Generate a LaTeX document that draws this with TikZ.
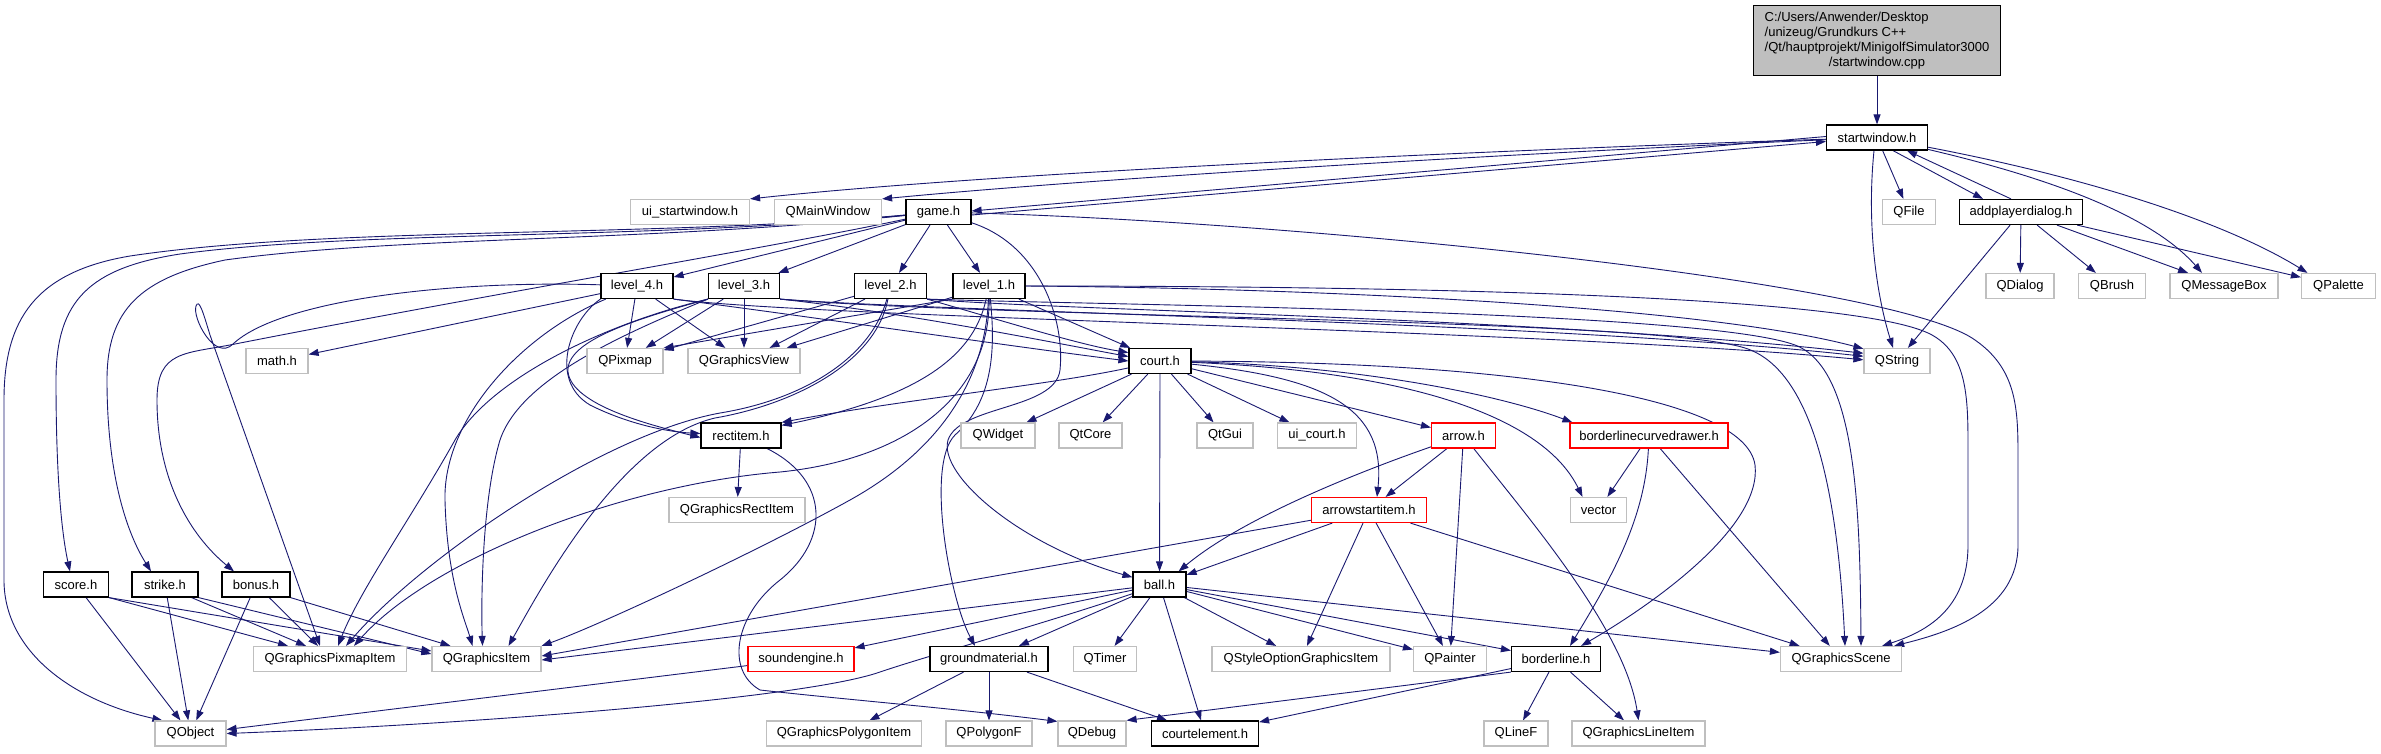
\documentclass[tikz,border=0pt]{standalone}
\usepackage{fontspec}
\setmainfont{Liberation Sans}
\usetikzlibrary{arrows.meta,backgrounds}
\definecolor{edgeblue}{HTML}{191970}
\definecolor{extgray}{HTML}{BFBFBF}

\begin{document}
\begin{tikzpicture}[x=1pt, y=-1pt, font=\fontsize{13}{15}\selectfont,
  hbox/.style={draw, line width=1.2pt, fill=white, inner sep=0pt, minimum height=25},
  proj/.style={hbox, draw=black},
  ext/.style={hbox, draw=extgray},
  trunc/.style={hbox, draw=red},
  src/.style={hbox, draw=black, fill=extgray, minimum width=247, minimum height=70},
  inc/.style={draw=edgeblue, line width=0.9pt, -{Triangle[length=10pt,width=7pt]}}]
\node[src] (cpp) at (1877,40.5) {\begin{tabular}{@{}l@{}}C:/Users/Anwender/Desktop\\ /unizeug/Grundkurs C++\\ /Qt/hauptprojekt/MinigolfSimulator3000\\ \multicolumn{1}{@{}c@{}}{/startwindow.cpp}\end{tabular}};
\node[proj, minimum width=101] (swh) at (1877,137.5) {startwindow.h};
\node[ext, minimum width=119] (uisw) at (690,212) {ui\_startwindow.h};
\node[ext, minimum width=107] (qmw) at (828,212) {QMainWindow};
\node[proj, minimum width=65] (game) at (938.5,212) {game.h};
\node[ext, minimum width=53] (qfile) at (1909,212) {QFile};
\node[proj, minimum width=123] (apd) at (2021,212) {addplayerdialog.h};
\node[proj, minimum width=72] (lv4) at (637,286) {level\_4.h};
\node[proj, minimum width=71] (lv3) at (744,286) {level\_3.h};
\node[proj, minimum width=72] (lv2) at (890.5,286) {level\_2.h};
\node[proj, minimum width=72] (lv1) at (989,286) {level\_1.h};
\node[ext, minimum width=68] (qdialog) at (2020,286) {QDialog};
\node[ext, minimum width=67] (qbrush) at (2112,286) {QBrush};
\node[ext, minimum width=108] (qmsg) at (2224,286) {QMessageBox};
\node[ext, minimum width=74] (qpal) at (2338.5,286) {QPalette};
\node[ext, minimum width=62] (math) at (277,361) {math.h};
\node[ext, minimum width=76] (qpix) at (625,361) {QPixmap};
\node[ext, minimum width=112] (qgv) at (744,361) {QGraphicsView};
\node[proj, minimum width=62] (court) at (1160,361) {court.h};
\node[ext, minimum width=66] (qstring) at (1897,361) {QString};
\node[proj, minimum width=80] (rectitem) at (741,435.5) {rectitem.h};
\node[ext, minimum width=74] (qwidget) at (998,435.5) {QWidget};
\node[ext, minimum width=63] (qtcore) at (1090.5,435.5) {QtCore};
\node[ext, minimum width=56] (qtgui) at (1225,435.5) {QtGui};
\node[ext, minimum width=79] (uicourt) at (1317,435.5) {ui\_court.h};
\node[trunc, minimum width=64] (arrow) at (1463.5,435.5) {arrow.h};
\node[trunc, minimum width=158] (blcd) at (1649,435.5) {borderlinecurvedrawer.h};
\node[ext, minimum width=136] (qgri) at (737,510) {QGraphicsRectItem};
\node[trunc, minimum width=115] (asi) at (1369,510) {arrowstartitem.h};
\node[ext, minimum width=56] (vector) at (1598.5,510) {vector};
\node[proj, minimum width=65] (score) at (76,584.5) {score.h};
\node[proj, minimum width=66] (strike) at (165,584.5) {strike.h};
\node[proj, minimum width=68] (bonus) at (256,584.5) {bonus.h};
\node[proj, minimum width=53] (ball) at (1159.5,584.5) {ball.h};
\node[ext, minimum width=153] (qgpi) at (330,659) {QGraphicsPixmapItem};
\node[ext, minimum width=109] (qgi) at (486.5,659) {QGraphicsItem};
\node[trunc, minimum width=106] (sound) at (801,659) {soundengine.h};
\node[proj, minimum width=118] (ground) at (989,659) {groundmaterial.h};
\node[ext, minimum width=63] (qtimer) at (1105,659) {QTimer};
\node[ext, minimum width=178] (qsogi) at (1301,659) {QStyleOptionGraphicsItem};
\node[ext, minimum width=73] (qpainter) at (1450,659) {QPainter};
\node[proj, minimum width=89] (borderline) at (1556,659) {borderline.h};
\node[ext, minimum width=121] (qgs) at (1841,659) {QGraphicsScene};
\node[ext, minimum width=71] (qobject) at (190.5,733.5) {QObject};
\node[ext, minimum width=155] (qgpoly) at (844,733.5) {QGraphicsPolygonItem};
\node[ext, minimum width=86] (qpolyf) at (989,733.5) {QPolygonF};
\node[ext, minimum width=68] (qdebug) at (1092,733.5) {QDebug};
\node[proj, minimum width=107] (courtel) at (1205,733.5) {courtelement.h};
\node[ext, minimum width=64] (qlinef) at (1516,733.5) {QLineF};
\node[ext, minimum width=133] (qgli) at (1638.5,733.5) {QGraphicsLineItem};
\begin{scope}[on background layer]
\fill[white] (0,0) rectangle (2381,753);
% startwindow
\draw[inc] (cpp) -- (swh);
\draw[inc] (swh) .. controls (1500,150) and (1000,172) .. (uisw.north east);
\draw[inc] (swh) .. controls (1500,154) and (1100,178) .. (qmw.north east);
\draw[inc] ([yshift=1pt]swh.west) -- ([yshift=1pt]game.east);
\draw[inc] ([yshift=-3pt]game.east) -- ([yshift=-4pt]swh.west);
\draw[inc] (swh) -- (qfile);
\draw[inc] ([xshift=16pt]swh.south) -- ([xshift=-38pt]apd.north);
\draw[inc] ([xshift=-10pt]apd.north) -- ([xshift=30pt]swh.south);
\draw[inc] ([xshift=-3pt]swh.south) .. controls (1866,230) and (1878,300) .. ([xshift=-4pt]qstring.north);
\draw[inc] (swh) .. controls (2080,185) and (2160,225) .. ([xshift=-22pt]qmsg.north);
\draw[inc] (swh) .. controls (2100,180) and (2230,225) .. ([xshift=-31pt]qpal.north);
\draw[inc] (apd) -- (qstring);
\draw[inc] (apd) -- (qdialog);
\draw[inc] (apd) -- (qbrush);
\draw[inc] (apd) -- (qmsg);
\draw[inc] (apd) -- (qpal);
% game
\draw[inc] (game) -- (lv4);
\draw[inc] (game) -- (lv3);
\draw[inc] (game) -- (lv2);
\draw[inc] (game) -- (lv1);
\draw[inc] (game) .. controls (650,238) and (330,226) .. (130,256) .. controls (35,272) and (4,320) .. (4,400) -- (4,580) .. controls (4,650) and (70,700) .. (qobject.155);
\draw[inc] (game) .. controls (650,240) and (360,230) .. (180,254) .. controls (90,268) and (56,300) .. (56,380) .. controls (56,480) and (62,535) .. ([xshift=-6pt]score.north);
\draw[inc] (game) .. controls (650,242) and (400,236) .. (225,260) .. controls (140,278) and (107,310) .. (107,380) .. controls (107,470) and (125,530) .. ([xshift=-14pt]strike.north);
\draw[inc] (game) .. controls (780,246) and (500,292) .. (235,344) .. controls (185,354) and (157,350) .. (157,400) .. controls (157,480) and (190,535) .. ([xshift=-22pt]bonus.north);
\draw[inc] (game) .. controls (1040,245) and (1065,320) .. (1060,370) .. controls (1055,410) and (960,405) .. (948,440) .. controls (938,475) and (1020,545) .. (ball.165);
\draw[inc] (game) .. controls (1300,222) and (1880,280) .. (1972,338) .. controls (2018,368) and (2018,410) .. (2018,460) -- (2018,545) .. controls (2018,610) and (1950,632) .. ([xshift=-8pt]qgs.north east);
% level_4
\draw[inc] (lv4) -- (math);
\draw[inc] (lv4) -- (qpix);
\draw[inc] (lv4) -- (qgv);
\draw[inc] (lv4.south west) .. controls (570,320) and (548,380) .. (590,405) .. controls (630,425) and (670,432) .. ([yshift=2pt]rectitem.west);
\draw[inc] (lv4) .. controls (450,280) and (280,300) .. (233,344) .. controls (215,362) and (192,318) .. (196,306) .. controls (199,298) and (203,312) .. (210,335) -- ([xshift=-10pt]qgpi.north);
\draw[inc] (lv4) .. controls (520,335) and (443,420) .. (445,500) .. controls (447,580) and (465,620) .. ([xshift=-14pt]qgi.north);
\draw[inc] (lv4.south east) .. controls (800,315) and (1000,345) .. (court.180);
\draw[inc] (lv4.south east) .. controls (820,318) and (1550,330) .. (qstring.178);
% level_3
\draw[inc] (lv3) -- (qpix);
\draw[inc] (lv3) -- (qgv);
\draw[inc] (lv3.south west) .. controls (640,318) and (565,340) .. (568,372) .. controls (572,405) and (650,425) .. ([yshift=-2pt]rectitem.west);
\draw[inc] (lv3.south west) .. controls (600,325) and (490,380) .. (455,440) .. controls (410,520) and (360,590) .. ([xshift=8pt]qgpi.north);
\draw[inc] (lv3.south west) .. controls (620,335) and (520,380) .. (500,440) .. controls (482,500) and (481,600) .. ([xshift=-4pt]qgi.north);
\draw[inc] (lv3.south east) .. controls (900,312) and (1040,340) .. (court.172);
\draw[inc] (lv3.south east) .. controls (950,312) and (1550,322) .. (qstring.172);
\draw[inc] (lv3.south east) .. controls (1000,318) and (1650,318) .. (1745,348) .. controls (1815,370) and (1838,500) .. ([xshift=4pt]qgs.north);
% level_2
\draw[inc] (lv2) -- (qpix);
\draw[inc] (lv2) -- (qgv);
\draw[inc] (lv2) .. controls (870,360) and (800,400) .. (720,413) .. controls (600,435) and (420,560) .. ([xshift=16pt]qgpi.north);
\draw[inc] (lv2) .. controls (875,365) and (790,405) .. (715,418) .. controls (620,440) and (540,590) .. ([xshift=22pt]qgi.north);
\draw[inc] (lv2.south east) .. controls (1000,320) and (1080,345) .. (court.165);
\draw[inc] (lv2.south east) .. controls (1050,310) and (1550,318) .. (qstring.167);
\draw[inc] (lv2.south east) .. controls (1100,305) and (1700,310) .. (1795,345) .. controls (1855,368) and (1860,500) .. ([xshift=20pt]qgs.north);
% level_1
\draw[inc] (lv1.south west) -- (qpix.north east);
\draw[inc] (lv1) -- (qgv);
\draw[inc] (lv1) .. controls (975,350) and (930,395) .. ([yshift=-3pt]rectitem.north east);
\draw[inc] (lv1) .. controls (995,345) and (995,400) .. (955,435) .. controls (925,465) and (950,600) .. ([xshift=-14pt]ground.north);
\draw[inc] (lv1) .. controls (985,380) and (940,450) .. (850,500) .. controls (760,550) and (600,625) .. (qgi.north east);
\draw[inc] (lv1) .. controls (990,400) and (900,460) .. (780,472) .. controls (620,485) and (430,560) .. ([xshift=24pt]qgpi.north);
\draw[inc] (lv1) -- (court);
\draw[inc] (lv1.east) .. controls (1300,288) and (1700,305) .. (qstring.160);
\draw[inc] (lv1.east) .. controls (1400,286) and (1860,295) .. (1932,335) .. controls (1968,355) and (1968,400) .. (1968,450) -- (1968,545) .. controls (1968,610) and (1925,632) .. ([xshift=-20pt]qgs.north east);
% court
\draw[inc] (court) -- (qwidget);
\draw[inc] (court) -- (qtcore);
\draw[inc] (court) -- (qtgui);
\draw[inc] (court) -- (uicourt);
\draw[inc] (court) -- (arrow);
\draw[inc] (court) -- (ball);
\draw[inc] (court) .. controls (1050,385) and (900,400) .. (rectitem.north east);
\draw[inc] (court) .. controls (1330,378) and (1386,410) .. ([xshift=8pt]asi.north);
\draw[inc] (court) .. controls (1420,372) and (1545,420) .. ([xshift=-16pt]vector.north);
\draw[inc] (court) .. controls (1360,366) and (1500,395) .. ([xshift=3pt]blcd.north west);
\draw[inc] (court) .. controls (1500,362) and (1745,395) .. (1755,465) .. controls (1762,525) and (1660,600) .. ([xshift=-20pt]borderline.north east);
% arrow, borderlinecurvedrawer, arrowstartitem
\draw[inc] (arrow) -- (asi);
\draw[inc] (arrow) -- (qpainter);
\draw[inc] (arrow) .. controls (1350,475) and (1240,520) .. ([xshift=-8pt]ball.north east);
\draw[inc] (arrow) .. controls (1530,520) and (1625,630) .. (qgli.north);
\draw[inc] (blcd) -- (vector);
\draw[inc] (blcd) .. controls (1645,520) and (1610,580) .. ([xshift=14pt]borderline.north);
\draw[inc] (blcd) -- (qgs);
\draw[inc] (asi) -- (ball);
\draw[inc] (asi) -- ([yshift=3pt]qgi.east);
\draw[inc] (asi) -- (qsogi);
\draw[inc] (asi) -- (qpainter);
\draw[inc] (asi) -- (qgs);
% ball
\draw[inc] (ball) -- (ground);
\draw[inc] (ball) -- (qtimer);
\draw[inc] (ball) -- (courtel);
\draw[inc] (ball) -- (qsogi);
\draw[inc] (ball) -- (qpainter);
\draw[inc] (ball) -- (borderline);
\draw[inc] (ball) -- (qgs);
\draw[inc] (ball) -- (sound);
\draw[inc] (ball) -- ([yshift=-1pt]qgi.east);
\draw[inc] (ball) .. controls (1040,625) and (930,655) .. (880,672) .. controls (800,700) and (450,725) .. (qobject.east);
\draw[inc] (sound) -- ([yshift=4pt]qobject.east);
% rectitem, groundmaterial, borderline
\draw[inc] (rectitem) -- (qgri);
\draw[inc] (rectitem) .. controls (830,480) and (830,540) .. (780,580) .. controls (735,615) and (725,670) .. (760,690) .. controls (850,700) and (950,708) .. ([yshift=-1pt]qdebug.north west);
\draw[inc] (ground) -- (qgpoly);
\draw[inc] (ground) -- (qpolyf);
\draw[inc] (ground) -- (courtel);
\draw[inc] (borderline.south west) -- (qdebug.north east);
\draw[inc] (borderline) -- (courtel);
\draw[inc] (borderline) -- (qlinef);
\draw[inc] (borderline) -- (qgli);
% score, strike, bonus
\draw[inc] (score.south east) -- ([xshift=-42pt]qgpi.north);
\draw[inc] (score.south east) -- ([yshift=8pt]qgi.west);
\draw[inc] (score) -- (qobject);
\draw[inc] ([xshift=-7pt]strike.south east) -- ([xshift=-24pt]qgpi.north);
\draw[inc] (strike.south east) -- ([yshift=5pt]qgi.west);
\draw[inc] (strike) -- (qobject);
\draw[inc] (bonus) -- ([xshift=-12pt]qgpi.north);
\draw[inc] (bonus.south east) -- ([xshift=-36pt]qgi.north);
\draw[inc] (bonus) -- (qobject);
\end{scope}
\useasboundingbox (0,0) rectangle (2381,753);
\end{tikzpicture}
\end{document}
